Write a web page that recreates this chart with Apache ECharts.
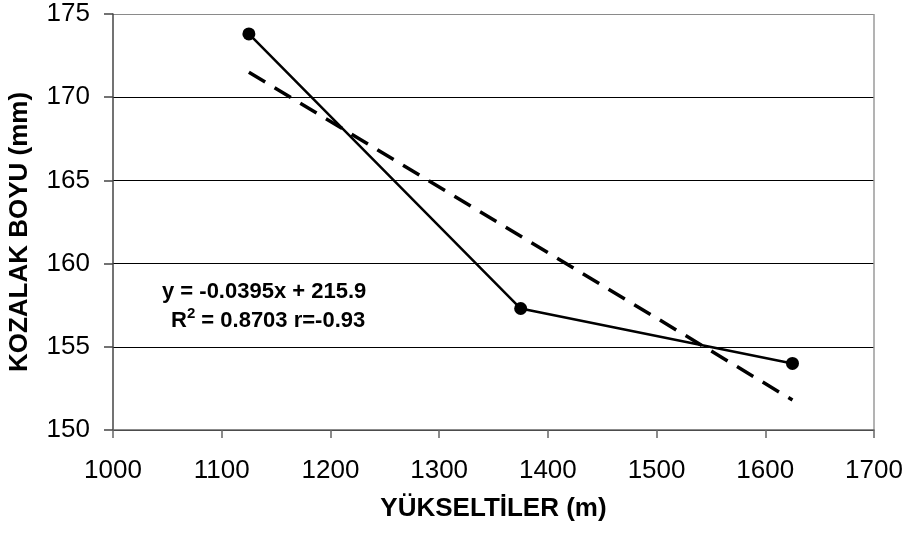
<!DOCTYPE html>
<html>
<head>
<meta charset="utf-8">
<script src="https://cdn.jsdelivr.net/npm/echarts@6/dist/echarts.min.js"></script>
<style>
  html, body { margin: 0; padding: 0; background: #fff; }
  #main { width: 914px; height: 535px; }
</style>
</head>
<body>
<div id="main"></div>
<script>
// measured points (elevation m, cone length mm)
var elevations = [1125, 1375, 1625];
var coneLength = [173.8, 157.3, 154.0];
// linear trend drawn in the original, read at both ends
var trendX = [1125, 1625];
var trendY = [171.5, 151.8];
var xTicks = { min: 1000, max: 1700, step: 100 };
var yTicks = { min: 150, max: 175, step: 5 };

var FONT = '"Liberation Sans", Arial, sans-serif';

var myChart = echarts.init(document.getElementById('main'));

var pts = elevations.map(function (x, i) { return [x, coneLength[i]]; });
var trend = trendX.map(function (x, i) { return [x, trendY[i]]; });

// top gridline and right border are grey in the original
var ySplitColors = [];
for (var v = yTicks.min; v <= yTicks.max; v += yTicks.step) {
  ySplitColors.push(v === yTicks.max ? '#8a8a8a' : '#000');
}
var xSplitColors = [];
for (var u = xTicks.min; u <= xTicks.max; u += xTicks.step) {
  xSplitColors.push(u === xTicks.max ? '#9a9a9a' : 'transparent');
}

var option = {
  backgroundColor: '#fff',
  animation: false,
  grid: { left: 113, right: 40, top: 14, bottom: 105 },
  xAxis: {
    type: 'value',
    min: xTicks.min, max: xTicks.max, interval: xTicks.step,
    name: 'YÜKSELTİLER (m)',
    nameLocation: 'middle',
    nameGap: 66,
    nameTextStyle: { fontFamily: FONT, fontSize: 26, fontWeight: 'bold', color: '#000' },
    axisLine: { lineStyle: { color: '#666', width: 1.5 } },
    axisTick: { length: 8, lineStyle: { color: '#666', width: 1.5 } },
    axisLabel: { margin: 28, fontFamily: FONT, fontSize: 26, color: '#000',
      formatter: function (val) { return String(val); } },
    splitLine: { show: true, lineStyle: { color: xSplitColors, width: 1.5 } }
  },
  yAxis: {
    type: 'value',
    min: yTicks.min, max: yTicks.max, interval: yTicks.step,
    axisLine: { show: true, lineStyle: { color: '#444', width: 1.5 } },
    axisTick: { show: true, length: 9, lineStyle: { color: '#444', width: 1.5 } },
    axisLabel: { margin: 23, fontFamily: FONT, fontSize: 26, color: '#000' },
    splitLine: { show: true, lineStyle: { color: ySplitColors, width: 1.2 } }
  },
  series: [
    {
      type: 'line',
      data: trend,
      symbol: 'none',
      lineStyle: { color: '#000', width: 3.5, type: [19, 11] },
      z: 2
    },
    {
      type: 'line',
      data: pts,
      symbol: 'circle',
      symbolSize: 13,
      itemStyle: { color: '#000' },
      lineStyle: { color: '#000', width: 2.5 },
      z: 3
    }
  ],
  graphic: [
    {
      type: 'text', x: 20, y: 232, rotation: Math.PI / 2,
      style: {
        text: 'KOZALAK BOYU (mm)',
        font: 'bold 26px ' + FONT,
        fill: '#000',
        align: 'center',
        verticalAlign: 'middle'
      }
    },
    {
      type: 'text', left: 162, top: 281,
      style: {
        text: 'y = -0.0395x + 215.9',
        font: 'bold 22px ' + FONT,
        fill: '#000'
      }
    },
    {
      type: 'text', left: 171, top: 306,
      style: {
        text: '{b|R}{s|2}{b| = 0.8703 r=-0.93}',
        fill: '#000',
        rich: {
          b: { fontFamily: FONT, fontSize: 22, fontWeight: 'bold', lineHeight: 28 },
          s: { fontFamily: FONT, fontSize: 15, fontWeight: 'bold', lineHeight: 28, padding: [0, 0, 14, 0] }
        }
      }
    }
  ]
};

myChart.setOption(option);
window.onresize = myChart.resize;
</script>
</body>
</html>
